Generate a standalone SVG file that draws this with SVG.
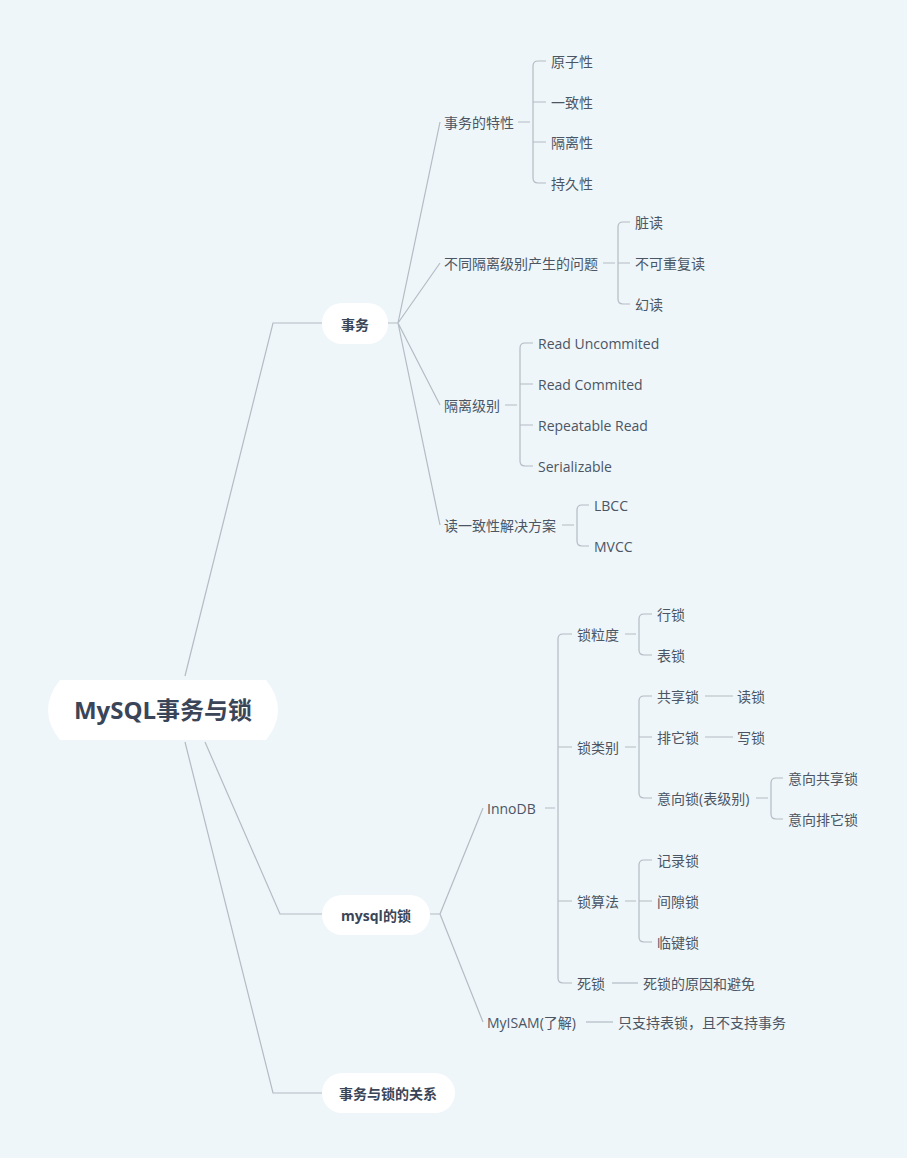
<svg xmlns="http://www.w3.org/2000/svg" width="907" height="1158" viewBox="0 0 907 1158">
<style>
.l{fill:none;stroke:#b4bcc4;stroke-width:1.2}
.t{font-family:"Open Sans","Noto Sans CJK SC",sans-serif;font-size:14px;fill:#4b5563;dominant-baseline:central}
.b{font-family:"Open Sans","Noto Sans CJK SC",sans-serif;font-size:14px;font-weight:bold;fill:#3a4558;dominant-baseline:central;text-anchor:middle}
.p{fill:#ffffff}
</style>
<rect width="907" height="1158" fill="#eef6fa"/>
<g id="connectors" class="l">
<path d="M185 676 L273 323 H322"/>
<path d="M205 742 L280 914 H322"/>
<path d="M185 742 L273 1093 H322"/>
<path d="M388 323 H398 M398 323 L440 122 M398 323 L440 263 M398 323 L440 405 M398 323 L440 525"/>
<path d="M518 122 H530 M546 61 H538 Q533 61 533 66 V178 Q533 183 538 183 H546 M533 102 H546 M533 142 H546"/>
<path d="M603 263 H615 M630 222 H623 Q618 222 618 227 V299 Q618 304 623 304 H630 M618 263 H630"/>
<path d="M505 405 H517 M533 343 H525 Q520 343 520 348 V461 Q520 466 525 466 H533 M520 384 H533 M520 425 H533"/>
<path d="M562 525 H574 M589 505 H582 Q577 505 577 510 V541 Q577 546 582 546 H589"/>
<path d="M430 914 H440 M440 914 L483 808 M440 914 L483 1022"/>
<path d="M545 808 H555 M572 634 H563 Q558 634 558 639 V978 Q558 983 563 983 H572 M558 747 H572 M558 901 H572"/>
<path d="M625 634 H636 M652 614 H644 Q639 614 639 619 V650 Q639 655 644 655 H652"/>
<path d="M625 747 H636 M652 696 H644 Q639 696 639 701 V793 Q639 798 644 798 H652 M639 737 H652"/>
<path d="M705 696 H733 M705 737 H733"/>
<path d="M756 798 H768 M783 778 H776 Q771 778 771 783 V814 Q771 819 776 819 H783"/>
<path d="M625 901 H636 M652 860 H644 Q639 860 639 865 V937 Q639 942 644 942 H652 M639 901 H652"/>
<path d="M612 983 H638"/>
<path d="M586 1022 H613"/>
</g>
<g id="root"><path class="p" d="M60 680 H266 Q290 710 266 740 H60 Q36 710 60 680Z"/><text class="b" x="163" y="709" style="font-size:24px">MySQL事务与锁</text></g>
<g id="n-shiwu"><rect class="p" x="322" y="303" width="66" height="41" rx="20"/><text class="b" x="355" y="324">事务</text></g>
<g id="n-lock"><rect class="p" x="322" y="895" width="108" height="40" rx="20"/><text class="b" x="376" y="915">mysql的锁</text></g>
<g id="n-rel"><rect class="p" x="322" y="1073" width="133" height="40" rx="20"/><text class="b" x="388" y="1093">事务与锁的关系</text></g>
<g id="leaves">
<text class="t" x="444" y="122">事务的特性</text>
<text class="t" x="551" y="61">原子性</text><text class="t" x="551" y="102">一致性</text><text class="t" x="551" y="142">隔离性</text><text class="t" x="551" y="183">持久性</text>
<text class="t" x="444" y="263">不同隔离级别产生的问题</text>
<text class="t" x="635" y="222">脏读</text><text class="t" x="635" y="263">不可重复读</text><text class="t" x="635" y="304">幻读</text>
<text class="t" x="444" y="405">隔离级别</text>
<text class="t" x="538" y="343">Read Uncommited</text><text class="t" x="538" y="384">Read Commited</text><text class="t" x="538" y="425">Repeatable Read</text><text class="t" x="538" y="466">Serializable</text>
<text class="t" x="444" y="525">读一致性解决方案</text>
<text class="t" x="594" y="505">LBCC</text><text class="t" x="594" y="546">MVCC</text>
<text class="t" x="487" y="808">InnoDB</text>
<text class="t" x="577" y="634">锁粒度</text><text class="t" x="657" y="614">行锁</text><text class="t" x="657" y="655">表锁</text>
<text class="t" x="577" y="747">锁类别</text>
<text class="t" x="657" y="696">共享锁</text><text class="t" x="737" y="696">读锁</text>
<text class="t" x="657" y="737">排它锁</text><text class="t" x="737" y="737">写锁</text>
<text class="t" x="657" y="798">意向锁(表级别)</text><text class="t" x="788" y="778">意向共享锁</text><text class="t" x="788" y="819">意向排它锁</text>
<text class="t" x="577" y="901">锁算法</text>
<text class="t" x="657" y="860">记录锁</text><text class="t" x="657" y="901">间隙锁</text><text class="t" x="657" y="942">临键锁</text>
<text class="t" x="577" y="983">死锁</text><text class="t" x="643" y="983">死锁的原因和避免</text>
<text class="t" x="487" y="1022">MyISAM(了解)</text><text class="t" x="618" y="1022">只支持表锁，且不支持事务</text>
</g>
</svg>
